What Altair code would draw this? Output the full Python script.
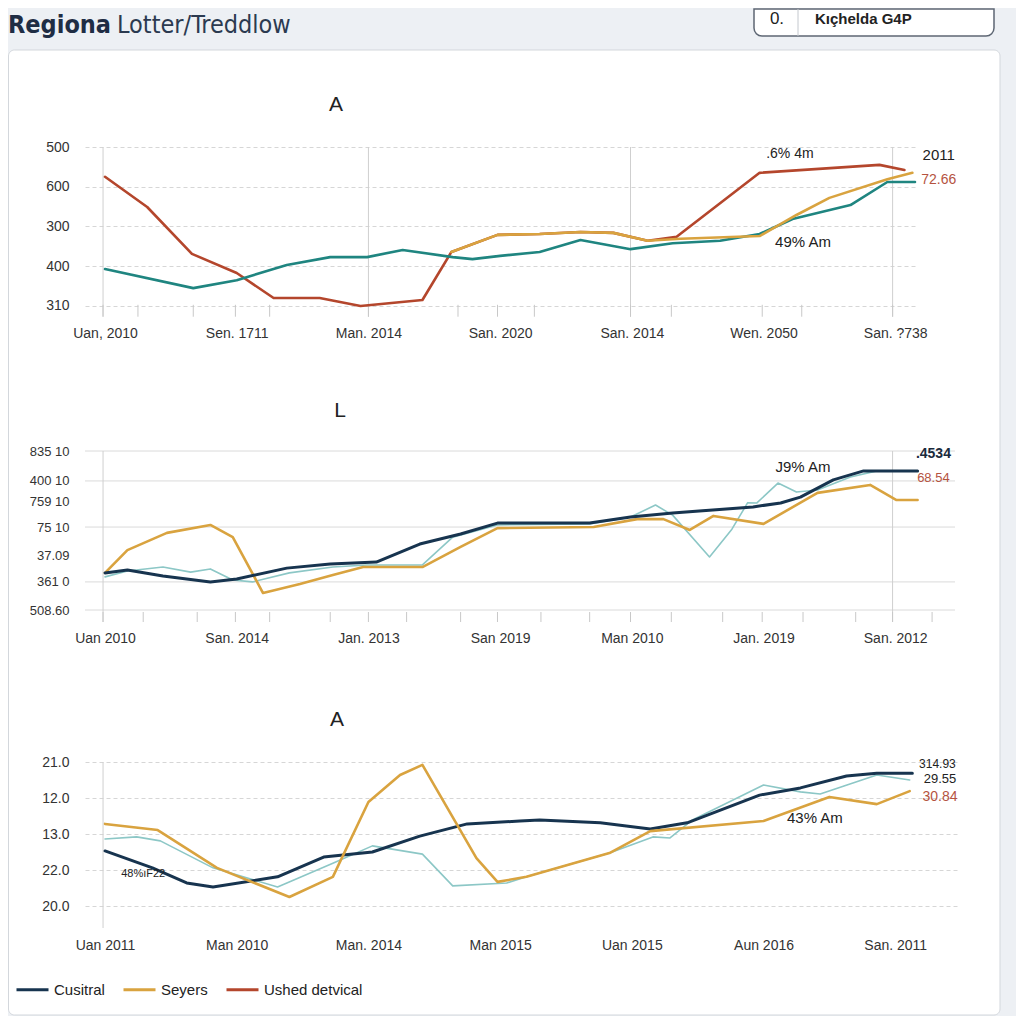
import altair as alt
import pandas as pd

FONT = "Liberation Sans"
NARROW = "Liberation Sans Narrow, Arial Narrow, DejaVu Sans Condensed, Roboto Condensed, Roboto, sans-serif"
BG = "#edf0f4"
NAVY = "#17344f"
GOLD = "#d9a33f"
RUST = "#b4462c"
TEAL = "#1f8580"
LTEAL = "#8cc7c6"

SERIES = ["Cusitral", "Seyers", "Ushed detvical", "Lotter", "Treddlow"]
COLORS = [NAVY, GOLD, RUST, TEAL, LTEAL]
LEGEND_VALUES = ["Cusitral", "Seyers", "Ushed detvical"]

# ---------------- Panel 1 ("A") ----------------
p1_x_labels = ["Uan, 2010", "Sen. 1711", "Man. 2014", "San. 2020", "San. 2014", "Wen. 2050", "San. ?738"]
p1_y_levels = [0, 1, 2, 3, 4]
p1_y_labels = ["310", "400", "300", "600", "500"]
p1_vrules = [-0.015, 2.0, 3.99, 5.98]
p1_ticks = [-0.015, 0.25, 0.67, 0.99, 1.25, 2.0, 2.68, 2.98, 3.26, 3.99, 4.30, 4.99, 5.29, 5.98]

p1_teal_x = [0.0, 0.67, 1.0, 1.38, 1.71, 1.99, 2.26, 2.64, 2.79, 3.0, 3.30, 3.61, 3.99, 4.31, 4.67, 4.97, 5.22, 5.66, 5.94, 6.15]
p1_teal_y = [0.93, 0.45, 0.65, 1.03, 1.23, 1.23, 1.41, 1.23, 1.18, 1.26, 1.36, 1.66, 1.43, 1.58, 1.64, 1.81, 2.19, 2.54, 3.12, 3.12]
p1_rust_x = [0.0, 0.32, 0.66, 1.0, 1.28, 1.63, 1.94, 2.41, 2.63, 2.98, 3.30, 3.61, 3.86, 4.12, 4.34, 4.97, 5.88, 6.07]
p1_rust_y = [3.25, 2.49, 1.31, 0.83, 0.20, 0.20, 0.0, 0.15, 1.36, 1.79, 1.81, 1.86, 1.84, 1.64, 1.74, 3.35, 3.55, 3.42]
p1_gold_x = [2.63, 2.98, 3.30, 3.61, 3.86, 4.12, 4.37, 4.97, 5.25, 5.50, 5.94, 6.13]
p1_gold_y = [1.36, 1.79, 1.81, 1.86, 1.84, 1.64, 1.69, 1.76, 2.29, 2.72, 3.19, 3.35]

p1_note_text = [".6% 4m", "2011", "72.66", "49% Am"]
p1_note_u = [5.20, 6.33, 6.33, 5.30]
p1_note_v = [3.82, 3.80, 3.17, 1.61]

# ---------------- Panel 2 ("L") ----------------
p2_x_labels = ["Uan 2010", "San. 2014", "Jan. 2013", "San 2019", "Man 2010", "Jan. 2019", "San. 2012"]
p2_y_levels = [0, 1.06, 2.04, 3.13, 4.08, 4.87, 6.0]
p2_y_labels = ["508.60", "361 0", "37.09", "75 10", "759 10", "400 10", "835 10"]
p2_grid = [0, 1.06, 3.13, 4.87, 6.0]
p2_vrules = [-0.015, 5.98]
p2_ticks = [-0.015, 0.29, 0.70, 0.99, 1.25, 1.71, 2.0, 2.29, 2.70, 2.98, 3.31, 3.68, 3.99, 4.30, 4.69, 4.99, 5.30, 5.70, 5.98, 6.28]

p2_navy_x = [0.0, 0.17, 0.44, 0.80, 1.0, 1.38, 1.71, 2.06, 2.39, 2.70, 2.98, 3.68, 3.99, 4.31, 4.92, 5.13, 5.28, 5.53, 5.76, 6.17]
p2_navy_y = [1.40, 1.51, 1.28, 1.06, 1.17, 1.58, 1.74, 1.81, 2.49, 2.87, 3.28, 3.28, 3.51, 3.66, 3.89, 4.04, 4.26, 4.91, 5.25, 5.25]
p2_teal_x = [0.0, 0.17, 0.44, 0.65, 0.80, 0.97, 1.12, 1.40, 1.73, 1.99, 2.41, 2.64, 2.98, 3.68, 3.99, 4.18, 4.31, 4.59, 4.76, 4.88, 4.95, 5.11, 5.25, 5.41, 5.66, 5.86]
p2_teal_y = [1.25, 1.47, 1.62, 1.43, 1.55, 1.13, 1.06, 1.40, 1.62, 1.70, 1.70, 2.75, 3.21, 3.25, 3.51, 3.96, 3.58, 2.0, 3.05, 4.05, 4.04, 4.79, 4.45, 4.53, 5.02, 5.25]
p2_gold_x = [0.0, 0.17, 0.47, 0.80, 0.97, 1.20, 1.48, 1.73, 1.96, 2.41, 2.70, 2.98, 3.71, 4.04, 4.24, 4.44, 4.62, 5.0, 5.41, 5.81, 6.01, 6.17]
p2_gold_y = [1.40, 2.26, 2.91, 3.21, 2.75, 0.64, 0.98, 1.32, 1.62, 1.62, 2.38, 3.09, 3.13, 3.43, 3.43, 3.02, 3.55, 3.25, 4.42, 4.72, 4.15, 4.15]

p2_note_text = ["J9% Am", ".4534", "68.54"]
p2_note_u = [5.30, 6.29, 6.29]
p2_note_v = [5.40, 5.89, 4.98]

# ---------------- Panel 3 ("A") ----------------
p3_x_labels = ["Uan 2011", "Man 2010", "Man. 2014", "Man 2015", "Uan 2015", "Aun 2016", "San. 2011"]
p3_y_levels = [0, 1, 2, 3, 4]
p3_y_labels = ["20.0", "22.0", "13.0", "12.0", "21.0"]
p3_vrules = [-0.015]

p3_navy_x = [0.0, 0.36, 0.62, 0.82, 1.31, 1.66, 2.03, 2.39, 2.75, 3.15, 3.30, 3.76, 4.14, 4.42, 4.97, 5.28, 5.63, 5.86, 6.13]
p3_navy_y = [1.53, 1.06, 0.64, 0.53, 0.81, 1.36, 1.50, 1.94, 2.28, 2.36, 2.39, 2.31, 2.14, 2.31, 3.08, 3.28, 3.61, 3.69, 3.69]
p3_teal_x = [0.0, 0.24, 0.42, 0.82, 1.31, 1.73, 2.03, 2.41, 2.64, 3.05, 3.20, 3.83, 4.16, 4.29, 4.46, 5.0, 5.28, 5.43, 5.86, 6.11]
p3_teal_y = [1.86, 1.92, 1.81, 1.06, 0.53, 1.19, 1.67, 1.44, 0.56, 0.64, 0.81, 1.47, 1.92, 1.89, 2.39, 3.36, 3.17, 3.11, 3.64, 3.50]
p3_gold_x = [0.0, 0.40, 0.85, 1.40, 1.73, 2.0, 2.24, 2.41, 2.82, 2.98, 3.20, 3.83, 4.14, 5.0, 5.50, 5.86, 6.11]
p3_gold_y = [2.28, 2.11, 1.06, 0.25, 0.81, 2.89, 3.64, 3.92, 1.33, 0.67, 0.81, 1.47, 2.08, 2.36, 3.03, 2.83, 3.19]

p3_note_text = ["314.93", "29.55", "30.84", "43% Am", "48%ıF22"]
p3_note_u = [6.32, 6.34, 6.34, 5.39, 0.29]
p3_note_v = [3.94, 3.53, 3.03, 2.44, 0.89]


# ---------------- helpers ----------------
def lab_expr(vals, labs):
    e = "'" + labs[-1] + "'"
    for k in range(len(vals) - 2, -1, -1):
        mid = (vals[k] + vals[k + 1]) / 2
        e = f"datum.value < {mid:.4f} ? '{labs[k]}' : ({e})"
    return e


def make_x(dom, labels, pad):
    vals = list(range(len(labels)))
    return alt.X("u:Q", scale=alt.Scale(domain=dom, nice=False, zero=False),
                 axis=alt.Axis(values=vals, labelExpr=lab_expr(vals, labels), grid=False,
                               domain=False, ticks=False, tickSize=0, labelPadding=pad,
                               title=None, labelFontSize=14, labelColor="#333",
                               labelFont=FONT, labelAngle=0, labelFlush=False))


def make_y(dom, vals, labels, size, grid, dash):
    ax = dict(values=vals, labelExpr=lab_expr(vals, labels), domain=False, ticks=False,
              tickSize=0, labelPadding=16, title=None, labelFontSize=size,
              labelColor="#333", labelFont=FONT, grid=grid, labelFlush=False)
    if grid:
        ax.update(gridColor="#d6d6d6", gridDash=dash, gridWidth=1)
    return alt.Y("v:Q", scale=alt.Scale(domain=dom, nice=False, zero=False), axis=alt.Axis(**ax))


def sdf(xs, ys, name):
    return pd.DataFrame({"u": xs, "v": ys, "s": name, "i": list(range(len(xs)))})


color_scale = alt.Scale(domain=SERIES, range=COLORS)


def line(df, w, X, Y, legend):
    return alt.Chart(df).mark_line(strokeWidth=w, strokeJoin="round", strokeCap="round").encode(
        x=X, y=Y, color=alt.Color("s:N", scale=color_scale, legend=legend), order="i:Q")


def vrule_layer(us, lo, hi, X, Y, color="#cfcfcf"):
    df = pd.DataFrame({"u": us, "v": [hi] * len(us), "v2": [lo] * len(us)})
    return alt.Chart(df).mark_rule(color=color, strokeWidth=1).encode(x=X, y=Y, y2=alt.Y2("v2:Q"))


def note(u, v, text, X, Y, color="#222", size=15, weight="normal", font=FONT):
    df = pd.DataFrame({"u": [u], "v": [v], "t": [text]})
    return alt.Chart(df).mark_text(color=color, fontSize=size, fontWeight=weight, font=font,
                                   align="center", baseline="middle").encode(x=X, y=Y, text="t:N")


def ptitle(text, x, y):
    return alt.Chart(pd.DataFrame({"t": [text]})).mark_text(
        fontSize=21, color="#222", font=FONT, align="center", baseline="middle").encode(
        x=alt.value(x), y=alt.value(y), text="t:N")


# ---------------- header ----------------
hdr = alt.Chart(pd.DataFrame({"k": [0]}))
header = alt.layer(
    hdr.mark_rect(color=BG).encode(x=alt.value(-77), x2=alt.value(931), y=alt.value(0), y2=alt.value(1008)),
    hdr.mark_rect(fill="white", stroke="#d3d7dc", strokeWidth=1, cornerRadius=6).encode(
        x=alt.value(-76.5), x2=alt.value(915), y=alt.value(42), y2=alt.value(1007)),
    hdr.mark_text(font=NARROW, fontSize=25, fontWeight="bold", color="#1f2d44", align="left",
                  baseline="middle").encode(x=alt.value(-77), y=alt.value(17), text=alt.value("Regiona")),
    hdr.mark_text(font=NARROW, fontSize=25, fontWeight=300, color="#2b3a50", align="left",
                  baseline="middle").encode(x=alt.value(32), y=alt.value(17), text=alt.value("Lotter/Treddlow")),
    hdr.mark_rect(fill="white", stroke="#5d6673", strokeWidth=1.5, cornerRadiusBottomLeft=8,
                  cornerRadiusBottomRight=8).encode(x=alt.value(669), x2=alt.value(909), y=alt.value(1), y2=alt.value(28)),
    hdr.mark_rule(color="#c4c8ce", strokeWidth=1).encode(x=alt.value(713), y=alt.value(1), y2=alt.value(28)),
    hdr.mark_text(font=FONT, fontSize=17, color="#222", align="center", baseline="middle").encode(
        x=alt.value(692), y=alt.value(11), text=alt.value("0.")),
    hdr.mark_text(font=FONT, fontSize=15, fontWeight="bold", color="#222", align="left", baseline="middle").encode(
        x=alt.value(730), y=alt.value(11), text=alt.value("Kıçhelda G4P")),
).properties(width=846, height=4)

# ---------------- panel 1 ----------------
X1 = make_x([-0.152, 6.15], p1_x_labels, 10)
Y1 = make_y([-0.2516, 4.0], p1_y_levels, p1_y_labels, 14, True, [4, 3])
p1_layers = [
    vrule_layer(p1_vrules, -0.27, 4.0, X1, Y1),
    vrule_layer(p1_ticks, -0.27, 0.03, X1, Y1, color="#c8c8c8"),
    line(sdf(p1_rust_x, p1_rust_y, "Ushed detvical"), 2.6, X1, Y1, None),
    line(sdf(p1_teal_x, p1_teal_y, "Lotter"), 2.6, X1, Y1, None),
    line(sdf(p1_gold_x, p1_gold_y, "Seyers"), 2.6, X1, Y1, None),
    note(p1_note_u[0], p1_note_v[0], p1_note_text[0], X1, Y1, size=14),
    note(p1_note_u[1], p1_note_v[1], p1_note_text[1], X1, Y1, size=15),
    note(p1_note_u[2], p1_note_v[2], p1_note_text[2], X1, Y1, color="#b5533f", size=14),
    note(p1_note_u[3], p1_note_v[3], p1_note_text[3], X1, Y1, size=15),
    ptitle("A", 251, -42),
]
p1 = alt.layer(*p1_layers).properties(width=830, height=169)

# ---------------- panel 2 ----------------
X2 = make_x([-0.152, 6.454], p2_x_labels, 4)
Y2 = make_y([-0.6415, 6.0], p2_y_levels, p2_y_labels, 13, False, None)
grid2 = alt.Chart(pd.DataFrame({"v": p2_grid})).mark_rule(color="#dadada", strokeWidth=1).encode(y=Y2)
p2_layers = [
    grid2,
    vrule_layer(p2_vrules, -0.453, 6.0, X2, Y2),
    vrule_layer(p2_ticks, -0.453, -0.075, X2, Y2, color="#c8c8c8"),
    line(sdf(p2_teal_x, p2_teal_y, "Treddlow"), 1.6, X2, Y2, None),
    line(sdf(p2_gold_x, p2_gold_y, "Seyers"), 2.6, X2, Y2, None),
    line(sdf(p2_navy_x, p2_navy_y, "Cusitral"), 3.0, X2, Y2, None),
    note(p2_note_u[0], p2_note_v[0], p2_note_text[0], X2, Y2, size=15),
    note(p2_note_u[1], p2_note_v[1], p2_note_text[1], X2, Y2, color="#1a2a3c", size=14, weight="bold"),
    note(p2_note_u[2], p2_note_v[2], p2_note_text[2], X2, Y2, color="#b5533f", size=13),
    ptitle("L", 255, -40),
]
p2 = alt.layer(*p2_layers).properties(width=870, height=176)

# ---------------- panel 3 ----------------
X3 = make_x([-0.152, 6.469], p3_x_labels, 10)
Y3 = make_y([-0.611, 4.0], p3_y_levels, p3_y_labels, 14, True, [4, 3])
leg = alt.Legend(orient="none", legendX=-70, legendY=210, direction="horizontal",
                 values=LEGEND_VALUES, title=None, symbolType="stroke", symbolSize=1024,
                 symbolStrokeWidth=3, labelFontSize=15, labelFont=FONT, labelColor="#222",
                 columnPadding=12, labelOffset=4, padding=0)
p3_layers = [
    vrule_layer(p3_vrules, -0.611, 4.0, X3, Y3),
    line(sdf(p3_teal_x, p3_teal_y, "Treddlow"), 1.6, X3, Y3, leg),
    line(sdf(p3_navy_x, p3_navy_y, "Cusitral"), 3.0, X3, Y3, leg),
    line(sdf(p3_gold_x, p3_gold_y, "Seyers"), 2.6, X3, Y3, leg),
    note(p3_note_u[0], p3_note_v[0], p3_note_text[0], X3, Y3, size=12),
    note(p3_note_u[1], p3_note_v[1], p3_note_text[1], X3, Y3, size=13),
    note(p3_note_u[2], p3_note_v[2], p3_note_text[2], X3, Y3, color="#b5533f", size=14),
    note(p3_note_u[3], p3_note_v[3], p3_note_text[3], X3, Y3, size=15),
    note(p3_note_u[4], p3_note_v[4], p3_note_text[4], X3, Y3, size=11),
    ptitle("A", 252, -42),
]
p3 = alt.layer(*p3_layers).properties(width=872, height=166)

chart = alt.vconcat(header, p1, p2, p3, spacing=135, bounds="flush", padding=0,
                    background=BG).resolve_scale(color="independent").configure_view(stroke=None)

chart.save("out.html", embed_options={"renderer": "svg", "actions": False})
